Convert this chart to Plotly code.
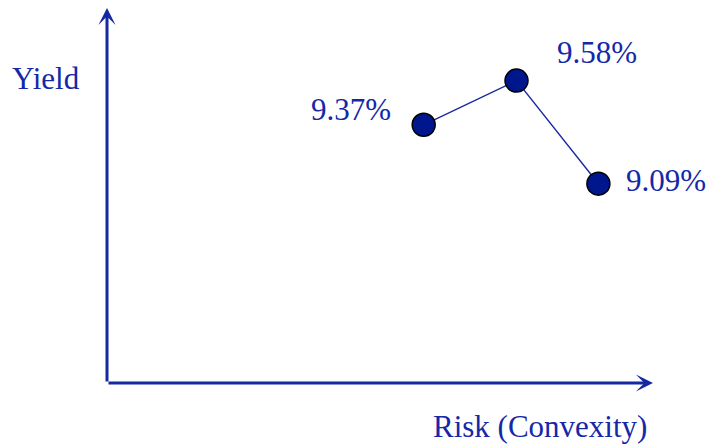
import plotly.graph_objects as go

# Portfolio points: convexity (risk) vs. yield
convexity = [5.8, 7.5, 9.0]
yields = [9.37, 9.58, 9.09]
labels = ["9.37%", "9.58%", "9.09%"]

# label offsets in pixels relative to each point
label_dx = [-73, 80, 68]
label_dy = [15, 28, 3]

TEXT = "#1428a8"
AXIS = "#1428a0"
MARK = "#00168c"
FONT = "Liberation Serif, Times New Roman, serif"

fig = go.Figure()
fig.add_trace(go.Scatter(
    x=convexity, y=yields, mode="lines+markers",
    line=dict(color="#1a2aa0", width=1.4),
    marker=dict(size=23, color=MARK, line=dict(color="black", width=1.5)),
    hoverinfo="skip", showlegend=False,
))

annotations = []
for xv, yv, t, dx, dy in zip(convexity, yields, labels, label_dx, label_dy):
    annotations.append(dict(
        x=xv, y=yv, xref="x", yref="y", text=t, showarrow=False,
        xshift=dx, yshift=dy, xanchor="center", yanchor="middle",
        font=dict(family=FONT, size=31, color=TEXT),
    ))

# axis arrows
annotations.append(dict(
    x=0, y=1, xref="paper", yref="paper", ax=0, ay=375, axref="pixel", ayref="pixel",
    text="", showarrow=True, arrowhead=3, arrowsize=0.95, arrowwidth=3, arrowcolor=AXIS,
))
annotations.append(dict(
    x=1, y=0, xref="paper", yref="paper", ax=-546, ay=0, axref="pixel", ayref="pixel",
    text="", showarrow=True, arrowhead=3, arrowsize=0.95, arrowwidth=3, arrowcolor=AXIS,
))

# axis titles
annotations.append(dict(
    x=-0.1117, y=0.813, xref="paper", yref="paper", text="Yield", showarrow=False,
    xanchor="center", yanchor="middle", font=dict(family=FONT, size=31, color=TEXT),
))
annotations.append(dict(
    x=0.793, y=-0.117, xref="paper", yref="paper", text="Risk (Convexity)", showarrow=False,
    xanchor="center", yanchor="middle", font=dict(family=FONT, size=31, color=TEXT),
))

fig.update_layout(
    width=711, height=445,
    margin=dict(l=107, r=58, t=8, b=62),
    paper_bgcolor="white", plot_bgcolor="white",
    xaxis=dict(range=[0, 10], visible=False, fixedrange=True),
    yaxis=dict(range=[8.1427, 9.925], visible=False, fixedrange=True),
    annotations=annotations,
)

fig.write_html("out.html", config={"displayModeBar": False})
